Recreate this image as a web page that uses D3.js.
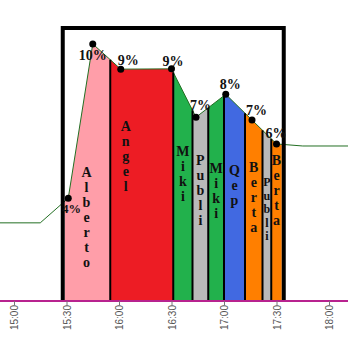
<!DOCTYPE html>
<html><head><meta charset="utf-8">
<script src="https://cdn.jsdelivr.net/npm/d3@7"></script>
<style>html,body{margin:0;padding:0;background:#fff;overflow:hidden}</style>
</head><body>
<svg id="c" width="348" height="348"></svg>
<script>
// ---- data ----
const lineTimes  = ["14:45","15:00","15:15","15:31","15:45","16:01","16:30","16:44","17:01","17:16","17:30","17:45","18:00","18:15"];
const lineValues = [3.04, 3.04, 3.04, 4.0, 10.0, 9.02, 9.03, 7.15, 8.04, 7.04, 6.11, 6.03, 6.03, 6.03];
const markedTimes = ["15:31","15:45","16:01","16:30","16:44","17:01","17:16","17:30"];
const segNames  = ["Alberto","Angel","Miki","Publi","Miki","Qep","Berta","Publi","Berta"];
const segStarts = ["15:29","15:55","16:31","16:42","16:51","17:00","17:12","17:22","17:27"];
const segEnds   = ["15:55","16:31","16:42","16:51","17:00","17:12","17:22","17:27","17:33"];
const tickLabels = ["15:00","15:30","16:00","16:30","17:00","17:30","18:00"];

// ---- styles / layout ----
const palette = {Alberto:"#ff9ea9", Angel:"#ed1c24", Miki:"#22b14c", Publi:"#b9b9b9", Qep:"#4169e1", Berta:"#ff7f00"};
const pctLabelLayout = [ // anchor, dx, dy, font size
  ["start",-6,15,12.5],["middle",0,16,14],["start",-3,-4,14],["start",-9,-3,14],
  ["start",-6,-7,14],["start",-6,-5,14],["start",-6,-5,14],["start",-11,-6,14]];
const segLabelLayout = [ // dx from centre, first baseline, font size, line step
  [-1,177,14,15],[-16,130.5,14,15],[0,155.5,14,15],[0,164.5,14,15],[0,173,14,15],
  [0,174.5,14,15],[0,172,14,15],[0,186,12,13.5],[0,165,14,15]];

const parse = d3.timeParse("%H:%M");
const svg = d3.select("#c");
const x = d3.scaleTime().domain([parse("15:00"), parse("18:00")]).range([14, 329]);
const y = d3.scaleLinear().domain([0, 10.62]).range([301, 28]);

const pts = lineTimes.map((t,i)=>({t:parse(t), v:lineValues[i]}));
const px = pts.map(d=>[x(d.t), y(d.v)]);
function lineYAt(xx){
  for(let i=0;i<px.length-1;i++){
    const a=px[i], b=px[i+1];
    if(xx>=a[0] && xx<=b[0]){ const f=(xx-a[0])/(b[0]-a[0]); return a[1]+f*(b[1]-a[1]); }
  }
  return px[px.length-1][1];
}

// segment areas
const area = d3.area().x(d=>d[0]).y0(y(0)).y1(d=>d[1]);
segNames.forEach((n,i)=>{
  const x0 = x(parse(segStarts[i])), x1 = x(parse(segEnds[i]));
  const poly = [[x0, lineYAt(x0)]];
  px.forEach(p=>{ if(p[0]>x0 && p[0]<x1) poly.push(p); });
  poly.push([x1, lineYAt(x1)]);
  svg.append("path").attr("d", area(poly)).attr("fill", palette[n]);
});

// line
svg.append("path").datum(px).attr("d", d3.line())
  .attr("fill","none").attr("stroke","#236f23").attr("stroke-width",1);

// separators
segStarts.slice(1).forEach(s=>{
  const xx = x(parse(s));
  svg.append("line").attr("x1",xx).attr("x2",xx).attr("y1",y(0)).attr("y2",lineYAt(xx))
    .attr("stroke","#000").attr("stroke-width",2);
});

// frame
const fx0 = x(parse(segStarts[0]))-2, fx1 = x(parse(segEnds[segEnds.length-1]))+2;
svg.append("path").attr("d",`M${fx0},${y(0)}V${y.range()[1]}H${fx1}V${y(0)}`)
  .attr("fill","none").attr("stroke","#000").attr("stroke-width",4);

// axis
svg.append("line").attr("x1",0).attr("x2",348).attr("y1",y(0)).attr("y2",y(0))
  .attr("stroke","#b8238f").attr("stroke-width",2);
const ax = svg.append("g").attr("transform",`translate(0,${y(0)})`)
  .call(d3.axisBottom(x).tickValues(tickLabels.map(parse)).tickFormat(d3.timeFormat("%H:%M")).tickSize(4));
ax.select(".domain").remove();
ax.selectAll(".tick line").attr("stroke","#777");
ax.selectAll(".tick text")
  .attr("transform","translate(3.5,4) rotate(-90)")
  .attr("x",0).attr("y",0).attr("dy",0)
  .attr("text-anchor","end")
  .attr("font-family","'Liberation Sans', Arial, sans-serif").attr("font-size",10).attr("fill","#555");

// segment labels
segNames.forEach((n,i)=>{
  const x0 = x(parse(segStarts[i])), x1 = x(parse(segEnds[i]));
  const L = segLabelLayout[i];
  const cx = (x0+x1)/2 + L[0];
  [...n].forEach((ch,k)=>{
    svg.append("text").attr("x",cx).attr("y",L[1]+k*L[3]).text(ch)
      .attr("text-anchor","middle").attr("font-family","'Liberation Serif','Times New Roman',serif")
      .attr("font-weight","bold").attr("font-size",L[2]).attr("fill","#111");
  });
});

// marked points
markedTimes.forEach((t,i)=>{
  const idx = lineTimes.indexOf(t);
  const cx = px[idx][0], cy = px[idx][1];
  svg.append("circle").attr("cx",cx).attr("cy",cy).attr("r",3.5).attr("fill","#000");
  const L = pctLabelLayout[i];
  svg.append("text").attr("x",cx+L[1]).attr("y",cy+L[2]).text(Math.round(lineValues[idx])+"%")
    .attr("text-anchor",L[0]).attr("font-family","'Liberation Serif','Times New Roman',serif")
    .attr("font-weight","bold").attr("font-size",L[3]).attr("fill","#111");
});
</script>
</body></html>
